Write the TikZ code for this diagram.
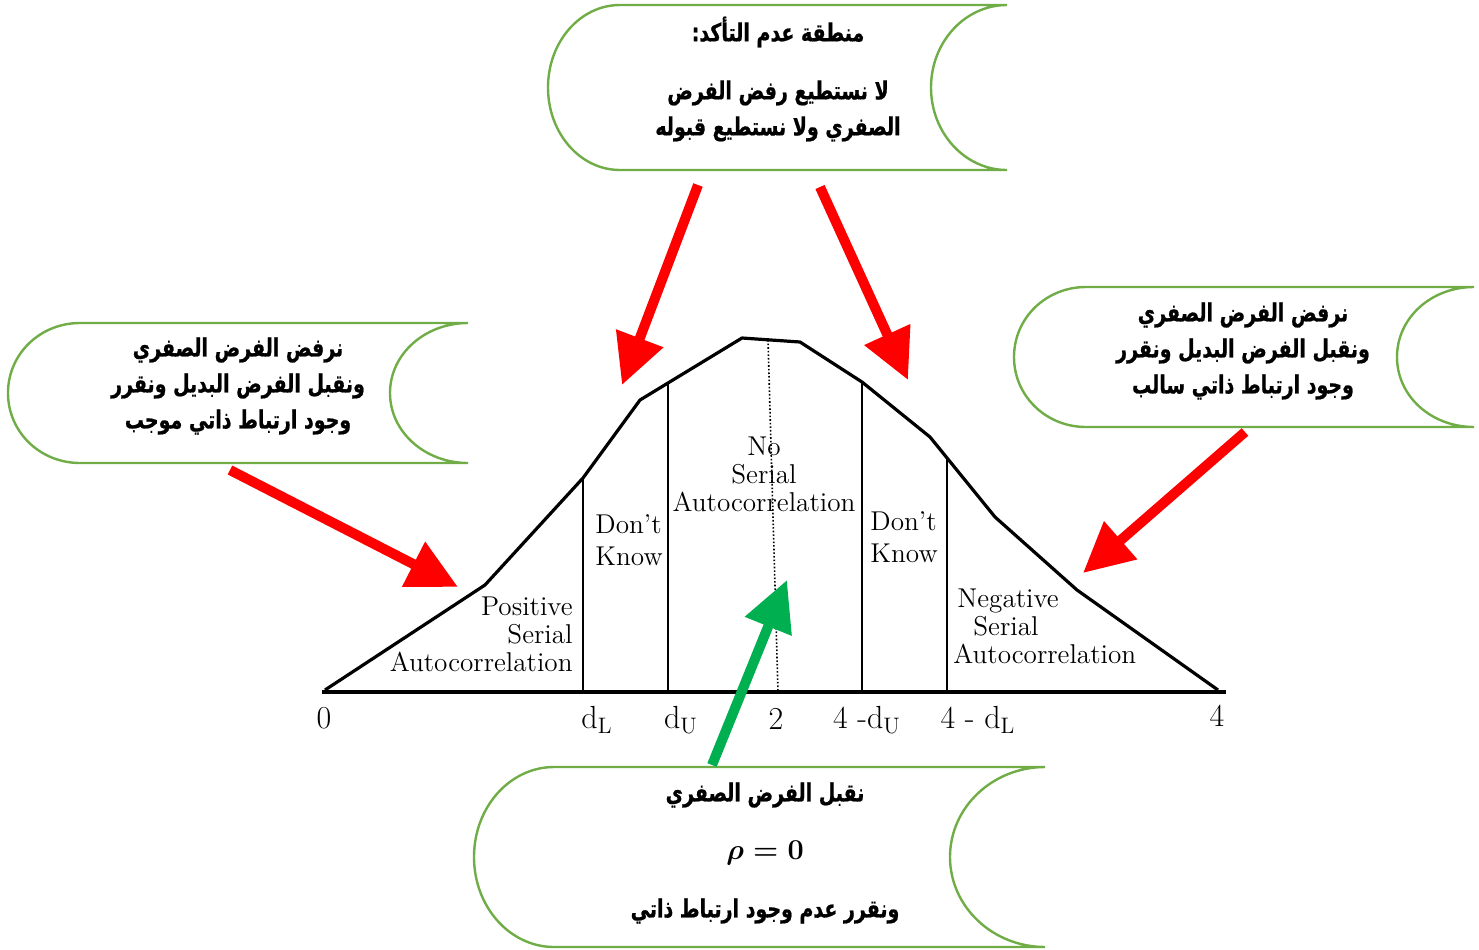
\documentclass[tikz,border=0pt]{standalone}
\usepackage{fontspec}
\usetikzlibrary{arrows.meta}
\TeXXeTstate=1
\newfontfamily\arabicfont[Script=Arabic,FakeStretch=0.76,BoldFeatures={FakeBold=0.8}]{DejaVu Sans}
\definecolor{kastengruen}{RGB}{112,173,71}
\definecolor{pfeilgruen}{RGB}{0,176,80}
\tikzset{
	kasten/.style={
		draw=kastengruen,
		line width=1.2pt
	},
	pfeil/.style={
		line width=5pt,
		-{Triangle[length=25pt,width=24pt]}
	},
	arabtext/.style={
		font=\arabicfont\bfseries\fontsize{12.5}{18}\selectfont,
		align=center,
		inner sep=0pt
	},
	kurventext/.style={
		font=\fontsize{13.6}{14}\selectfont,
		inner sep=0pt
	},
	achsentext/.style={
		font=\fontsize{16}{16}\selectfont,
		inner sep=0pt
	}
}

\begin{document}
\begin{tikzpicture}[x=0.5pt,y=-0.5pt]
	\useasboundingbox (0,0) rectangle (1479,949);
	% Kasten oben
	\draw[kasten] (620,5) -- (1007,5) .. controls (965,5) and (931,42) ..
		(931,87.5) .. controls (931,133) and (965,170) .. (1007,170) --
		(620,170) .. controls (580,170) and (548,133) .. (548,87.5) ..
		controls (548,42) and (580,5) .. (620,5);
	\node[arabtext] (textOben) at (778,79) {\beginR منطقة عدم التأكد:\endR\\[11pt]
		\beginR لا نستطيع رفض الفرض\endR\\
		\beginR الصفري ولا نستطيع قبوله\endR};
	% Kasten links
	\draw[kasten] (80,323) -- (468,323) .. controls (425,323) and (390,354) ..
		(390,393) .. controls (390,432) and (425,463) .. (468,463) --
		(80,463) .. controls (40,463) and (8,432) .. (8,393) ..
		controls (8,354) and (40,323) .. (80,323);
	\node[arabtext] (textLinks) at (238,386) {\beginR نرفض الفرض الصفري\endR\\
		\beginR ونقبل الفرض البديل ونقرر\endR\\
		\beginR وجود ارتباط ذاتي موجب\endR};
	% Kasten rechts
	\draw[kasten] (1086,287) -- (1474,287) .. controls (1431,287) and (1397,318) ..
		(1397,357) .. controls (1397,396) and (1431,427) .. (1474,427) --
		(1086,427) .. controls (1046,427) and (1014,396) .. (1014,357) ..
		controls (1014,318) and (1046,287) .. (1086,287);
	\node[arabtext] (textRechts) at (1243,351) {\beginR نرفض الفرض الصفري\endR\\
		\beginR ونقبل الفرض البديل ونقرر\endR\\
		\beginR وجود ارتباط ذاتي سالب\endR};
	% Kasten unten
	\draw[kasten] (554,767) -- (1045,767) .. controls (993,767) and (950,807) ..
		(950,857) .. controls (950,907) and (993,947) .. (1045,947) --
		(554,947) .. controls (510,947) and (474,907) .. (474,857) ..
		controls (474,807) and (510,767) .. (554,767);
	\node[arabtext] (textUnten) at (765,853) {\beginR نقبل الفرض الصفري\endR\\[11pt]
		{\fontsize{14}{18}\selectfont\boldmath$\rho = 0$}\\[11pt]
		\beginR ونقرر عدم وجود ارتباط ذاتي\endR};
	% Achse
	\draw[
		line width=1.6pt
	] (322,692) -- (1226,692);
	% Kurve
	\draw[
		line width=1.6pt,
		line join=round
	] (325,690) -- (485,585) -- (583,478) -- (640,400) -- (742,338) --
		(800,342) -- (862,382) -- (930,437) -- (995,517) -- (1077,590) --
		(1218,690);
	% Grenzen
	\draw[line width=0.8pt] (583,478) -- (583,692);
	\draw[line width=0.8pt] (668,383) -- (668,692);
	\draw[line width=0.8pt] (862,382) -- (862,692);
	\draw[line width=0.8pt] (947,458) -- (947,692);
	\draw[
		line width=0.8pt,
		densely dotted
	] (768,340) -- (778,692);
	% Bereiche
	\node[kurventext, align=right, anchor=east] (positiv) at (573,634)
		{Positive\\Serial\hspace{8pt}\\Autocorrelation};
	\node[kurventext, align=left, anchor=west] (dkLinks) at (595,540) {Don't\\[2pt]Know};
	\node[kurventext, align=center] (keine) at (764,474) {No\\Serial\\Autocorrelation};
	\node[kurventext, align=left, anchor=west] (dkRechts) at (870,537) {Don't\\[2pt]Know};
	\node[kurventext, align=left, anchor=west] (negativ) at (953,626)
		{\hspace{2pt}Negative\\\hspace{10pt}Serial\\Autocorrelation};
	% Beschriftung Achse
	\node[achsentext] (null) at (324,718) {0};
	\node[achsentext] (dL) at (597,720) {d$_\mathrm{L}$};
	\node[achsentext] (dU) at (681,720) {d$_\mathrm{U}$};
	\node[achsentext] (zwei) at (776,719) {2};
	\node[achsentext] (vierdU) at (867,720) {4 -d$_\mathrm{U}$};
	\node[achsentext] (vierdL) at (978,720) {4 - d$_\mathrm{L}$};
	\node[achsentext] (vier) at (1217,716) {4};
	% Pfeile
	\coordinate (startOL) at (698,185);
	\coordinate (spitzeOL) at (622,385);
	\coordinate (startOR) at (820,187);
	\coordinate (spitzeOR) at (908,380);
	\coordinate (startL) at (230,470);
	\coordinate (spitzeL) at (458,587);
	\coordinate (startR) at (1245,432);
	\coordinate (spitzeR) at (1083,573);
	\coordinate (startU) at (712,765);
	\coordinate (spitzeU) at (787,580);
	\draw[pfeil, red] (startOL) -- (spitzeOL);
	\draw[pfeil, red] (startOR) -- (spitzeOR);
	\draw[pfeil, red] (startL) -- (spitzeL);
	\draw[pfeil, red] (startR) -- (spitzeR);
	\draw[pfeil, pfeilgruen] (startU) -- (spitzeU);
\end{tikzpicture}
\end{document}
